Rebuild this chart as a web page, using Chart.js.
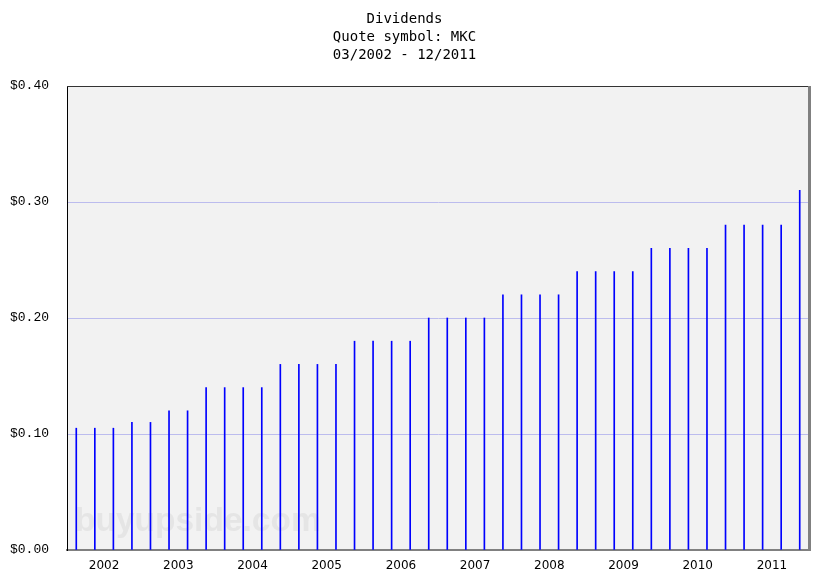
<!DOCTYPE html>
<html>
<head>
<meta charset="utf-8">
<script src="https://cdn.jsdelivr.net/npm/chart.js@4/dist/chart.umd.min.js"></script>
<style>
  html, body { margin: 0; padding: 0; background: #fff; }
  #wrap { width: 831px; height: 586px; }
</style>
</head>
<body>
<div id="wrap"><canvas id="divChart" width="831" height="586"></canvas></div>
<script>
// Quarterly dividends, 03/2002 - 12/2011
const dividends = [
  0.105, 0.105, 0.105, 0.11,
  0.11, 0.12, 0.12, 0.14,
  0.14, 0.14, 0.14, 0.16,
  0.16, 0.16, 0.16, 0.18,
  0.18, 0.18, 0.18, 0.20,
  0.20, 0.20, 0.20, 0.22,
  0.22, 0.22, 0.22, 0.24,
  0.24, 0.24, 0.24, 0.26,
  0.26, 0.26, 0.26, 0.28,
  0.28, 0.28, 0.28, 0.31
];
const years = ['2002', '2003', '2004', '2005', '2006', '2007', '2008', '2009', '2010', '2011'];
const titleLines = ['Dividends', 'Quote symbol: MKC', '03/2002 - 12/2011'];
const yTicks = [0, 0.1, 0.2, 0.3, 0.4];

// plot background, frame and watermark
const decor = {
  id: 'decor',
  beforeDraw(chart) {
    const { ctx, chartArea: a } = chart;
    ctx.save();
    ctx.fillStyle = '#f2f2f2';
    ctx.fillRect(a.left, a.top, a.right - a.left, a.bottom - a.top);
    ctx.restore();
  },
  beforeDatasetsDraw(chart) {
    const { ctx, chartArea: a } = chart;
    ctx.save();
    ctx.font = 'bold 33.5px "Liberation Sans", Arial, sans-serif';
    ctx.fillStyle = '#e5e5e5';
    ctx.textBaseline = 'alphabetic';
    ctx.fillText('buyupside.com', a.left + 8, a.bottom - 19);
    ctx.restore();
  },
  afterDraw(chart) {
    const { ctx, chartArea: a } = chart;
    ctx.save();
    ctx.strokeStyle = '#333';
    ctx.lineWidth = 1;
    ctx.beginPath();
    ctx.moveTo(a.left, a.top + 0.5);
    ctx.lineTo(a.right, a.top + 0.5);
    ctx.stroke();
    ctx.strokeStyle = '#808080';
    ctx.lineWidth = 3;
    ctx.beginPath();
    ctx.moveTo(a.right + 0.5, a.top);
    ctx.lineTo(a.right + 0.5, a.bottom + 1);
    ctx.stroke();
    ctx.restore();
  }
};

const chart = new Chart(document.getElementById('divChart'), {
  type: 'bar',
  data: {
    datasets: [{
      data: dividends.map((v, i) => ({ x: i + 0.5, y: v })),
      backgroundColor: '#0000ff',
      borderWidth: 0,
      barThickness: 1
    }]
  },
  options: {
    responsive: false,
    animation: false,
    layout: { padding: { left: 0, right: 22, top: 0, bottom: 0 } },
    plugins: {
      legend: { display: false },
      tooltip: { enabled: false },
      title: {
        display: true,
        text: titleLines,
        color: '#000',
        font: { family: '"DejaVu Sans Mono", monospace', size: 14, weight: 'normal', lineHeight: '18px' },
        padding: { top: 10, bottom: 22 }
      }
    },
    scales: {
      x: {
        type: 'linear',
        offset: false,
        min: 0,
        max: dividends.length,
        afterBuildTicks(scale) {
          scale.ticks = years.map((y, i) => ({ value: 2 + i * 4 }));
        },
        afterFit(scale) { scale.height = 36; },
        ticks: {
          callback: (v) => years[(v - 2) / 4],
          color: '#000',
          padding: 9,
          maxRotation: 0,
          autoSkip: false,
          font: { family: '"DejaVu Sans", sans-serif', size: 12 }
        },
        grid: { display: false, drawTicks: false },
        border: { display: true, color: '#808080', width: 2 }
      },
      y: {
        min: 0,
        max: 0.4,
        afterBuildTicks(scale) {
          scale.ticks = yTicks.map(v => ({ value: v }));
        },
        afterFit(scale) { scale.width = 67; },
        ticks: {
          callback: (v) => '$' + v.toFixed(2),
          color: '#000',
          padding: 18,
          font: { family: '"Liberation Mono", monospace', size: 13 }
        },
        grid: {
          drawTicks: false,
          color: (c) => (c.tick && (c.tick.value === 0 || c.tick.value === 0.4)) ? 'rgba(0,0,0,0)' : '#bcbcee',
          lineWidth: 1
        },
        border: { display: true, color: '#000', width: 1 }
      }
    }
  },
  plugins: [decor]
});
</script>
</body>
</html>
